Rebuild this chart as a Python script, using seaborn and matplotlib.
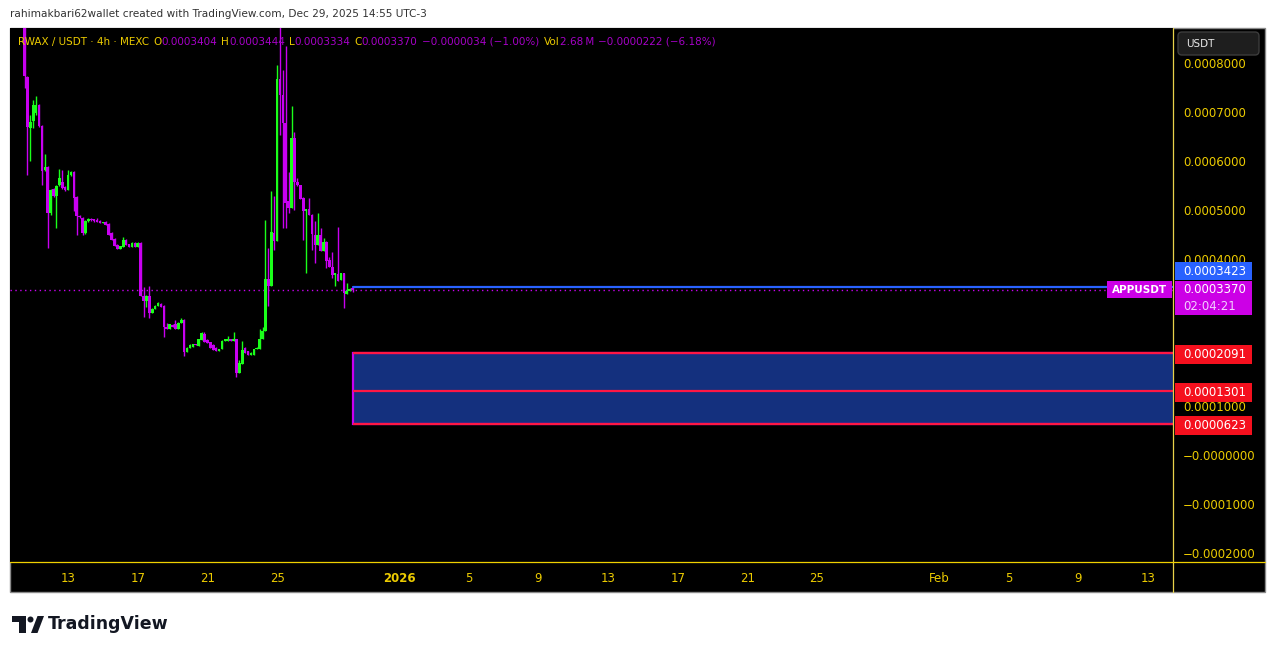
import numpy as np
import pandas as pd
import matplotlib
matplotlib.use("Agg")
import matplotlib.pyplot as plt
import matplotlib.dates as mdates
from matplotlib.patches import Rectangle, FancyBboxPatch, Polygon, Circle
from matplotlib.lines import Line2D
from matplotlib.transforms import Affine2D
from matplotlib.ticker import FuncFormatter
import seaborn as sns

W, H = 1275, 654

# 4h candles, prices in 1e-7 USDT
opens = [9300, 7714, 6673, 6816, 6980, 7143, 6714, 5816, 5878, 4939,
         5429, 5286, 5510, 5571, 5469, 5408, 5714, 5776, 5265, 4878,
         4837, 4531, 4776, 4816, 4796, 4796, 4776, 4735, 4755, 4714,
         4531, 4408, 4286, 4204, 4245, 4388, 4306, 4245, 4327, 4245,
         4327, 3245, 3143, 3245, 2898, 2980, 3041, 3082, 3041, 2612,
         2571, 2653, 2673, 2571, 2694, 2755, 2102, 2184, 2204, 2265,
         2224, 2347, 2469, 2347, 2306, 2245, 2184, 2122, 2163, 2327,
         2327, 2367, 2327, 2367, 1673, 1857, 2184, 2122, 2041, 2041,
         2163, 2163, 2367, 2531, 3592, 3449, 4531, 4367, 7673, 7347,
         6776, 5184, 5041, 6469, 5571, 5510, 5245, 4980, 5020, 4898,
         4490, 4286, 4490, 4163, 4347, 3980, 3837, 3673, 3694, 3571,
         3714, 3286, 3347, 3404]
highs = [9600, 7735, 6939, 7245, 7327, 7160, 6730, 6143, 5900, 5420,
         5450, 5500, 5837, 5816, 5480, 5816, 5790, 5790, 5280, 4890,
         4850, 4790, 4830, 4830, 4810, 4840, 4790, 4765, 4770, 4730,
         4545, 4420, 4300, 4275, 4449, 4400, 4316, 4337, 4347, 4337,
         4337, 3429, 3255, 3449, 2990, 3051, 3122, 3092, 3051, 2694,
         2683, 2663, 2755, 2704, 2796, 2765, 2194, 2255, 2275, 2275,
         2377, 2510, 2510, 2357, 2316, 2255, 2194, 2173, 2337, 2357,
         2429, 2377, 2510, 2377, 1939, 2327, 2194, 2132, 2092, 2173,
         2194, 2571, 2612, 4796, 4224, 5388, 5286, 7959, 9600, 7857,
         8347, 5776, 7122, 6592, 5653, 5520, 5255, 5030, 5245, 4908,
         4776, 4939, 4633, 4429, 4357, 4041, 4143, 3724, 4653, 3724,
         3724, 3510, 3398, 3444]
lows = [7490, 5714, 6000, 6673, 6939, 6694, 5510, 5796, 4224, 4900,
        5265, 4633, 5490, 5429, 5390, 5400, 5700, 4980, 4490, 4840,
        4490, 4500, 4760, 4780, 4765, 4745, 4725, 4725, 4684, 4480,
        4378, 4255, 4194, 4194, 4235, 4276, 4235, 4235, 4235, 4235,
        3235, 2816, 3020, 2796, 2888, 2970, 3031, 3010, 2408, 2561,
        2561, 2602, 2561, 2561, 2684, 2020, 2092, 2174, 2194, 2235,
        2214, 2337, 2296, 2276, 2174, 2133, 2112, 2112, 2153, 2317,
        2317, 2317, 2317, 1592, 1663, 1847, 2072, 2031, 2031, 2031,
        2153, 2153, 2357, 2521, 3041, 3439, 4184, 4357, 6530, 4633,
        4633, 4939, 5031, 5000, 5490, 5214, 4388, 3714, 4888, 4184,
        3918, 4276, 4153, 4153, 3816, 3827, 3612, 3449, 3541, 3561,
        3000, 3276, 3337, 3334]
closes = [7735, 6694, 6796, 7143, 7143, 6714, 5796, 5878, 4939, 5408,
          5286, 5490, 5653, 5449, 5408, 5714, 5776, 5245, 4878, 4857,
          4531, 4776, 4816, 4796, 4776, 4755, 4735, 4755, 4694, 4490,
          4388, 4265, 4204, 4265, 4388, 4286, 4245, 4327, 4245, 4327,
          3245, 3143, 3245, 2898, 2980, 3041, 3102, 3020, 2612, 2571,
          2673, 2612, 2571, 2694, 2755, 2102, 2184, 2245, 2265, 2245,
          2367, 2490, 2306, 2286, 2184, 2143, 2122, 2163, 2327, 2347,
          2367, 2327, 2367, 1673, 1878, 2143, 2082, 2041, 2082, 2163,
          2184, 2367, 2531, 3592, 3449, 4551, 4367, 7673, 7347, 6776,
          5143, 5041, 6469, 5571, 5510, 5224, 4980, 5020, 4898, 4510,
          4286, 4490, 4163, 4347, 3959, 3837, 3673, 3714, 3551, 3714,
          3306, 3347, 3388, 3370]

first_candle = "2025-12-10 12:00"
ray_price = 0.0003423
last_price = 0.0003370
zone_levels = [0.0002091, 0.0001301, 0.0000623]
y_ticks = [0.0008, 0.0007, 0.0006, 0.0005, 0.0004, 0.0001, 0.0, -0.0001, -0.0002]
x_tick_dates = ["2025-12-13", "2025-12-17", "2025-12-21", "2025-12-25", "2026-01-01",
                "2026-01-05", "2026-01-09", "2026-01-13", "2026-01-17", "2026-01-21",
                "2026-01-25", "2026-02-01", "2026-02-05", "2026-02-09", "2026-02-13"]
x_tick_labels = ["13", "17", "21", "25", "2026", "5", "9", "13", "17", "21", "25",
                 "Feb", "5", "9", "13"]

YELLOW = "#eccb00"
PURPLE = "#a600c8"
MAGENTA = "#c800f0"
GREEN = "#1aff1a"

sns.set_theme(style="dark")
plt.rcParams["font.family"] = ["DejaVu Sans"]

df = pd.DataFrame({
    "time": pd.date_range(first_candle, periods=len(opens), freq="4h"),
    "open": np.array(opens) * 1e-7,
    "high": np.array(highs) * 1e-7,
    "low": np.array(lows) * 1e-7,
    "close": np.array(closes) * 1e-7,
})
df["x"] = mdates.date2num(df["time"])
df["up"] = df["close"] >= df["open"]
df["color"] = np.where(df["up"], GREEN, MAGENTA)

fig = plt.figure(figsize=(W / 100, H / 100), dpi=100, facecolor="white")
pix = Affine2D().scale(1 / W, -1 / H).translate(0, 1) + fig.transFigure

# dark chart panel
fig.add_artist(Rectangle((10, 28), 1255, 564, transform=pix, facecolor="black",
                         edgecolor="#8a8a8a", lw=1, zorder=-1))

ax = fig.add_axes([10 / W, 1 - 562 / H, 1163 / W, 534 / H])
ax.set_facecolor("black")
for s in ax.spines.values():
    s.set_visible(False)

xmin = mdates.date2num(pd.Timestamp("2025-12-09 16:00"))
xmax = mdates.date2num(pd.Timestamp("2026-02-14 10:30"))
ymin, ymax = -0.0002184, 0.0008714
ax.set_xlim(xmin, xmax)
ax.set_ylim(ymin, ymax)

# candles
body_lo = df[["open", "close"]].min(axis=1)
body_h = (df["close"] - df["open"]).abs().clip(lower=3e-6)
ax.vlines(df["x"], df["low"], df["high"], colors=df["color"], lw=1, zorder=2)
ax.bar(df["x"], body_h, bottom=body_lo, width=0.15, color=df["color"],
       linewidth=0, zorder=3)

x_last = df["x"].iloc[-1]

# current price dotted line
ax.axhline(last_price, color=MAGENTA, lw=1, ls=(0, (1, 2.5)), zorder=1)

# demand zone
ax.add_patch(Rectangle((x_last, zone_levels[2]), xmax + 10 - x_last,
                       zone_levels[0] - zone_levels[2], facecolor="#14307e",
                       edgecolor=MAGENTA, lw=1.6, zorder=4))
ax.hlines(zone_levels, x_last, xmax + 10, colors="#ff1744", lw=1.6, zorder=5)

# horizontal ray
sns.lineplot(x=[x_last, xmax + 10], y=[ray_price, ray_price], ax=ax,
             color="#2962ff", lw=1.6, zorder=6)

# axes ticks
ax.yaxis.tick_right()
ax.set_yticks(y_ticks)
ax.yaxis.set_major_formatter(FuncFormatter(
    lambda v, p: ("\u2212" if v <= 1e-12 else "") + f"{abs(v):.7f}"))
ax.tick_params(axis="y", length=0, pad=7.3, labelcolor=YELLOW, labelsize=8.5)
ax.set_xticks(mdates.date2num(pd.to_datetime(x_tick_dates)))
ax.set_xticklabels(x_tick_labels)
ax.tick_params(axis="x", length=0, pad=7, labelcolor=YELLOW, labelsize=8.5)
for t in ax.get_xticklabels():
    if t.get_text() == "2026":
        t.set_fontweight("bold")
ax.grid(False)
ax.set_xlabel("")
ax.set_ylabel("")

# price scale labels
dpp = (ymax - ymin) / 534
axp = fig.add_axes([1173 / W, 1 - 562 / H, 92 / W, 534 / H], sharey=ax)
axp.set_axis_off()
ytr = axp.get_yaxis_transform()


def price_tag(center, text, color, height_px=18, sub=None):
    h = height_px * dpp
    axp.add_patch(Rectangle((2 / 92, center - h / 2), 77 / 92, h, transform=ytr,
                            facecolor=color, edgecolor="none", clip_on=False, zorder=5))
    if sub is None:
        axp.text(10 / 92, center, text, transform=ytr, color="white", fontsize=8.5,
                 va="center", ha="left", clip_on=False, zorder=6)
    else:
        axp.text(10 / 92, center + 8 * dpp, text, transform=ytr, color="white",
                 fontsize=8.5, va="center", ha="left", clip_on=False, zorder=6)
        axp.text(10 / 92, center - 9 * dpp, sub, transform=ytr, color="#f3d0ff",
                 fontsize=8.5, va="center", ha="left", clip_on=False, zorder=6)


price_tag(ray_price + 16 * dpp, f"{ray_price:.7f}", "#2962ff")
price_tag(last_price - 8 * dpp, f"{last_price:.7f}", "#cc00e6", height_px=34,
          sub="02:04:21")
for lv in zone_levels:
    price_tag(lv - 1.5 * dpp, f"{lv:.7f}", "#f5101e", height_px=19)

# symbol tag on the price line
atr = ax.get_yaxis_transform()
ax.add_patch(Rectangle((1097 / 1163, last_price - 8.5 * dpp), 65 / 1163, 17 * dpp,
                       transform=atr, facecolor="#cc00e6", edgecolor="none",
                       zorder=7, clip_on=False))
ax.text(1129.5 / 1163, last_price, "APPUSDT", transform=atr, color="white",
        fontsize=7.5, fontweight="bold", ha="center", va="center", zorder=8)

# separators
fig.add_artist(Line2D([1173, 1173], [28, 592], transform=pix, color="#e8d24a",
                      lw=0.9, zorder=5))
fig.add_artist(Line2D([10, 1265], [562, 562], transform=pix, color="#f0d000",
                      lw=0.9, zorder=5))

# currency button
fig.add_artist(FancyBboxPatch((1178, 32), 81, 23, boxstyle="round,pad=0,rounding_size=4",
                              transform=pix, facecolor="#1e1e1e", edgecolor="#3c3c3c",
                              lw=1, zorder=6))
fig.text(1186 / W, 1 - 44 / H, "USDT", color="#e8e8e8", fontsize=7.5, va="center",
         ha="left", zorder=7)

# header texts
fig.text(10 / W, 1 - 14 / H,
         "rahimakbari62wallet created with TradingView.com, Dec 29, 2025 14:55 UTC-3",
         color="#333333", fontsize=7.6, va="center", ha="left")

parts = [("RWAX / USDT \u00b7 4h \u00b7 MEXC", YELLOW, 4), ("O", YELLOW, 0),
         ("0.0003404", PURPLE, 4), ("H", YELLOW, 0), ("0.0003444", PURPLE, 4),
         ("L", YELLOW, 0), ("0.0003334", PURPLE, 4), ("C", YELLOW, 0),
         ("0.0003370", PURPLE, 4), ("\u22120.0000034 (\u22121.00%)", PURPLE, 5),
         ("Vol", YELLOW, 0), ("2.68\u2009M", PURPLE, 4),
         ("\u22120.0000222 (\u22126.18%)", PURPLE, 0)]
renderer = fig.canvas.get_renderer()
hx = 18
for text, color, gap in parts:
    t = fig.text(hx / W, 1 - 42 / H, text, color=color, fontsize=7.5, va="center",
                 ha="left", zorder=8)
    hx += t.get_window_extent(renderer).width + gap

# TradingView logo
fig.add_artist(Polygon([(12, 616), (26, 616), (26, 633), (19, 633), (19, 622), (12, 622)],
                       closed=True, transform=pix, facecolor="#131722", edgecolor="none"))
fig.add_artist(Circle((30.5, 619.5), 3, transform=pix, facecolor="#131722",
                      edgecolor="none"))
fig.add_artist(Polygon([(31, 633), (37.5, 633), (44, 616), (37.5, 616)], closed=True,
                       transform=pix, facecolor="#131722", edgecolor="none"))
fig.text(48 / W, 1 - 624 / H, "TradingView", color="#131722", fontsize=12.5,
         fontweight="bold", va="center", ha="left")

fig.savefig("out.png", dpi=100, facecolor="white")
